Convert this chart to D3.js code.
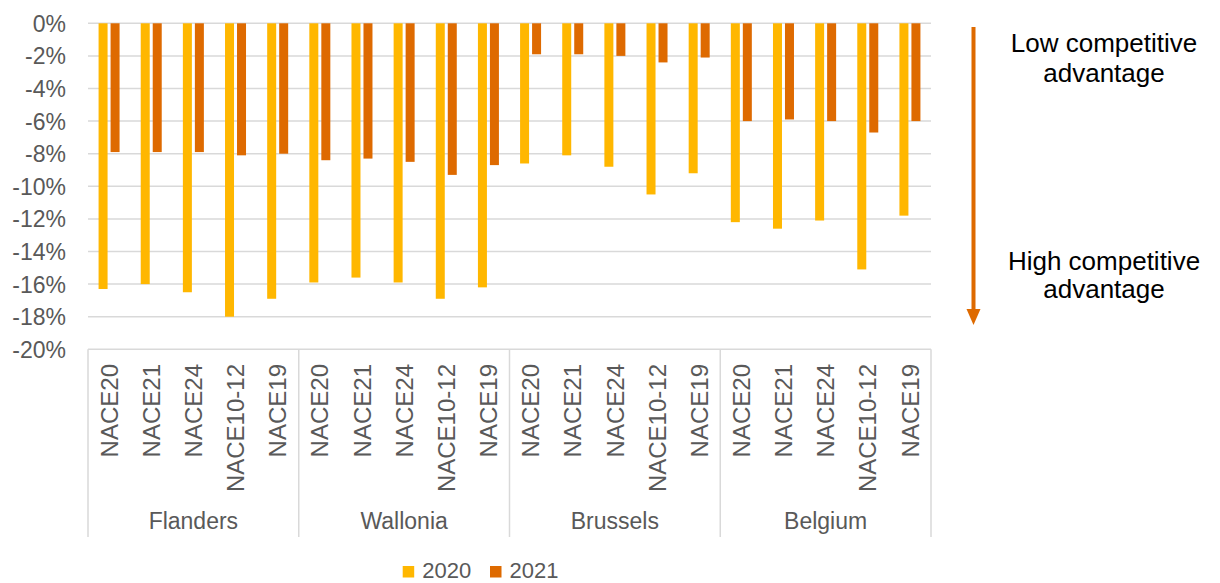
<!DOCTYPE html>
<html>
<head>
<meta charset="utf-8">
<script src="https://cdn.jsdelivr.net/npm/d3@7"></script>
<style>
  html, body { margin: 0; padding: 0; background: #fff; }
  svg { display: block; font-family: "Liberation Sans", Arial, sans-serif; }
</style>
</head>
<body>
<svg id="chart" width="1220" height="583"></svg>
<script>
// ---- data ----
const regions = ["Flanders", "Wallonia", "Brussels", "Belgium"];
const sectors = ["NACE20", "NACE21", "NACE24", "NACE10-12", "NACE19"];
const seriesNames = ["2020", "2021"];
const values2020 = [-16.3, -16.0, -16.5, -18.0, -16.9,
                    -15.9, -15.6, -15.9, -16.9, -16.2,
                    -8.6, -8.1, -8.8, -10.5, -9.2,
                    -12.2, -12.6, -12.1, -15.1, -11.8];
const values2021 = [-7.9, -7.9, -7.9, -8.1, -8.0,
                    -8.4, -8.3, -8.5, -9.3, -8.7,
                    -1.9, -1.9, -2.0, -2.4, -2.1,
                    -6.0, -5.9, -6.0, -6.7, -6.0];
const yTicks = [0, -2, -4, -6, -8, -10, -12, -14, -16, -18, -20];
const annotations = [["Low competitive", "advantage"], ["High competitive", "advantage"]];

// ---- build rows ----
const rows = [];
regions.forEach((r, ri) => sectors.forEach((s, si) => {
  const i = ri * sectors.length + si;
  rows.push({ key: r + "|" + s, region: r, sector: s, v2020: values2020[i], v2021: values2021[i] });
}));

const colors = { "2020": "#FFB700", "2021": "#DE6A00" };
const gridColor = "#D9D9D9";
const textColor = "#595959";

const svg = d3.select("#chart");
const plotLeft = 88, plotRight = 931, plotTop = 23.3, plotBottom = 349.3;

const y = d3.scaleLinear().domain([-20, 0]).range([plotBottom, plotTop]);
const x0 = d3.scaleBand().domain(rows.map(d => d.key)).range([plotLeft, plotRight]).paddingInner(0).paddingOuter(0);
const xg = d3.scaleBand().domain(regions).range([plotLeft, plotRight]);
const x1 = d3.scaleBand().domain(seriesNames).range([0, 21]).paddingInner(0.25);

// gridlines
svg.append("g").selectAll("line").data(yTicks.filter(t => t !== -20)).join("line")
  .attr("x1", plotLeft).attr("x2", plotRight)
  .attr("y1", d => y(d)).attr("y2", d => y(d))
  .attr("stroke", gridColor).attr("stroke-width", 1.5);

// y axis labels
const yAxis = d3.axisLeft(y).tickValues(yTicks).tickSize(0).tickPadding(0)
  .tickFormat(d => (d < 0 ? "-" : "") + Math.abs(d) + "%");
const yg = svg.append("g").attr("transform", "translate(66,0)").call(yAxis);
yg.select(".domain").remove();
yg.selectAll("text").attr("fill", textColor).attr("font-size", 23)
  .attr("font-family", "'Liberation Sans', Arial, sans-serif").attr("dy", "0.35em");

// bars
const groups = svg.append("g").selectAll("g").data(rows).join("g")
  .attr("transform", d => `translate(${x0(d.key) + x0.bandwidth() / 2 - 10.5},0)`);
groups.selectAll("rect").data(d => seriesNames.map(s => ({ s, v: d["v" + s] }))).join("rect")
  .attr("x", d => x1(d.s))
  .attr("width", x1.bandwidth())
  .attr("y", y(0))
  .attr("height", d => y(d.v) - y(0))
  .attr("fill", d => colors[d.s]);

// x axis line
svg.append("line").attr("x1", plotLeft).attr("x2", plotRight).attr("y1", plotBottom).attr("y2", plotBottom)
  .attr("stroke", gridColor).attr("stroke-width", 1.5);
// group separators
const seps = regions.map(r => xg(r)).concat([plotRight]);
svg.append("g").selectAll("line").data(seps).join("line")
  .attr("x1", d => d).attr("x2", d => d).attr("y1", plotBottom).attr("y2", 537)
  .attr("stroke", gridColor).attr("stroke-width", 1.5);

// category labels (rotated)
svg.append("g").selectAll("text").data(rows).join("text")
  .attr("transform", d => `translate(${x0(d.key) + x0.bandwidth() / 2},364) rotate(-90)`)
  .attr("text-anchor", "end").attr("dy", "0.36em")
  .attr("font-size", 24).attr("fill", textColor)
  .text(d => d.sector);

// region labels
svg.append("g").selectAll("text").data(regions).join("text")
  .attr("x", d => xg(d) + xg.bandwidth() / 2).attr("y", 529)
  .attr("text-anchor", "middle").attr("font-size", 23).attr("fill", textColor)
  .text(d => d);

// legend
const legendX = [402.7, 490];
const lg = svg.append("g").selectAll("g").data(seriesNames).join("g")
  .attr("transform", (d, i) => `translate(${legendX[i]},0)`);
lg.append("rect").attr("x", 0).attr("y", 566).attr("width", 11.5).attr("height", 11.5)
  .attr("fill", d => colors[d]);
lg.append("text").attr("x", 19.5).attr("y", 578).attr("font-size", 22).attr("fill", textColor)
  .text(d => d);

// arrow
svg.append("line").attr("x1", 973.5).attr("x2", 973.5).attr("y1", 27).attr("y2", 311)
  .attr("stroke", "#DE6A00").attr("stroke-width", 4);
svg.append("path")
  .attr("d", d3.line()([[966.5, 309], [980.5, 309], [973.5, 325]]) + "Z")
  .attr("fill", "#DE6A00");

// annotations
const annY = [[51.7, 81.7], [270, 298.3]];
annotations.forEach((lines, i) => {
  lines.forEach((t, j) => {
    svg.append("text").attr("x", 1104).attr("y", annY[i][j])
      .attr("text-anchor", "middle").attr("font-size", 26).attr("fill", "#000")
      .text(t);
  });
});
</script>
</body>
</html>
